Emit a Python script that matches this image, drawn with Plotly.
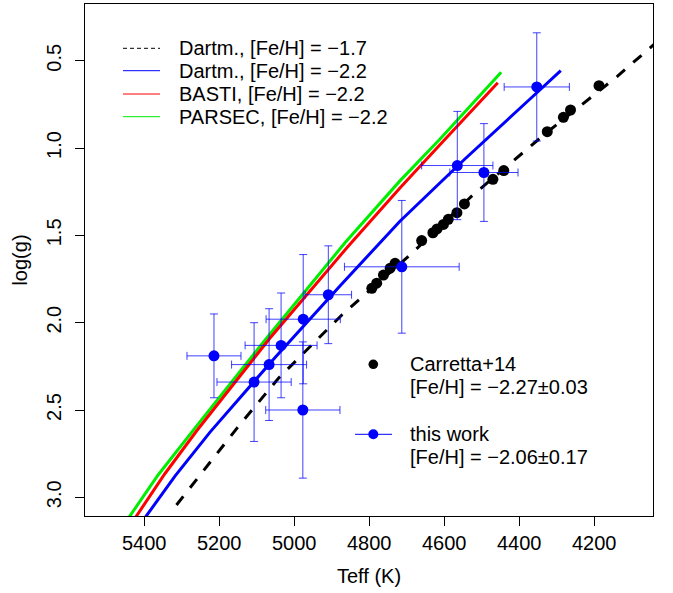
import plotly.graph_objects as go

# ---------------- data ----------------
# Dartmouth isochrone, [Fe/H] = -1.7 (dashed black)
dart17_teff = [5314, 5153, 5042, 4873, 4686, 4526, 4331, 4139, 4052, 4011]
dart17_logg = [3.044, 2.605, 2.318, 1.956, 1.602, 1.274, 0.919, 0.591, 0.428, 0.352]

# Dartmouth isochrone, [Fe/H] = -2.2 (blue)
dart22_teff = [5411, 5394, 5318, 5225, 5051, 4878, 4718, 4544, 4371, 4289]
dart22_logg = [3.159, 3.105, 2.879, 2.628, 2.199, 1.790, 1.419, 1.061, 0.719, 0.557]

# BASTI isochrone, [Fe/H] = -2.2 (red)
basti_teff = [5437, 5420, 5345, 5260, 5065, 4856, 4718, 4602, 4502, 4457]
basti_logg = [3.159, 3.105, 2.865, 2.619, 2.089, 1.562, 1.229, 0.960, 0.733, 0.626]

# PARSEC isochrone, [Fe/H] = -2.2 (green)
parsec_teff = [5455, 5438, 5363, 5269, 5070, 4864, 4718, 4611, 4513, 4448]
parsec_logg = [3.159, 3.105, 2.872, 2.615, 2.079, 1.541, 1.188, 0.948, 0.722, 0.566]

# Carretta+14 stars (black dots)
carretta_teff = [4793, 4780, 4762, 4744, 4731, 4660, 4630, 4619, 4602, 4589,
                 4566, 4546, 4470, 4441, 4325, 4282, 4263, 4187]
carretta_logg = [1.803, 1.774, 1.727, 1.688, 1.660, 1.530, 1.485, 1.463, 1.437, 1.408,
                 1.370, 1.320, 1.179, 1.129, 0.906, 0.824, 0.782, 0.643]

# this work (blue dots with error bars)
this_teff = [5214, 5107, 5067, 5035, 4977, 4976, 4909, 4713, 4565, 4494, 4353]
this_logg = [2.19, 2.34, 2.24, 2.13, 2.50, 1.98, 1.84, 1.68, 1.10, 1.14, 0.65]
this_eteff = [72, 99, 100, 96, 99, 99, 62, 153, 95, 91, 87]
this_elogg = [0.24, 0.34, 0.32, 0.30, 0.39, 0.37, 0.28, 0.38, 0.31, 0.28, 0.31]

x_ticks = [5400, 5200, 5000, 4800, 4600, 4400, 4200]
y_ticks = [0.5, 1.0, 1.5, 2.0, 2.5, 3.0]

legend1_labels = ["Dartm., [Fe/H] = \u22121.7", "Dartm., [Fe/H] = \u22122.2",
                  "BASTI, [Fe/H] = \u22122.2", "PARSEC, [Fe/H] = \u22122.2"]
legend2_labels = ["Carretta+14", "[Fe/H] = \u22122.27\u00b10.03",
                  "this work", "[Fe/H] = \u22122.06\u00b10.17"]

# ---------------- figure ----------------
W, H = 673, 593
ML, MR, MT, MB = 85, 20, 4, 77
PW, PH = W - ML - MR, H - MT - MB
FONT = "Liberation Sans, Arial, Helvetica, sans-serif"
BLUE, RED, GREEN = "#0000ff", "#ff0000", "#00ee00"


def px(x):
    return (x - ML) / PW


def py(y):
    return (H - MB - y) / PH


fig = go.Figure()
fig.add_trace(go.Scatter(x=parsec_teff, y=parsec_logg, mode="lines",
                         line=dict(color=GREEN, width=3), hoverinfo="skip"))
fig.add_trace(go.Scatter(x=basti_teff, y=basti_logg, mode="lines",
                         line=dict(color=RED, width=3), hoverinfo="skip"))
fig.add_trace(go.Scatter(x=dart22_teff, y=dart22_logg, mode="lines",
                         line=dict(color=BLUE, width=3), hoverinfo="skip"))
fig.add_trace(go.Scatter(x=dart17_teff, y=dart17_logg, mode="lines",
                         line=dict(color="black", width=3, dash="11px,11px"), hoverinfo="skip"))
fig.add_trace(go.Scatter(x=carretta_teff, y=carretta_logg, mode="markers",
                         marker=dict(color="black", size=11, line=dict(width=0))))
fig.add_trace(go.Scatter(x=this_teff, y=this_logg, mode="markers",
                         marker=dict(color=BLUE, size=11, line=dict(width=0)),
                         error_x=dict(type="data", array=this_eteff, color="rgba(0,0,255,0.75)",
                                      thickness=1, width=4),
                         error_y=dict(type="data", array=this_elogg, color="rgba(0,0,255,0.75)",
                                      thickness=1, width=4)))

shapes = []
annotations = []

# legend 1 (top left)
rows1 = [48.3, 70.7, 94.0, 116.7]
styles1 = [dict(color="black", width=1, dash="4px,3px"), dict(color=BLUE, width=1),
           dict(color=RED, width=1), dict(color=GREEN, width=1)]
for yy, st, lab in zip(rows1, styles1, legend1_labels):
    shapes.append(dict(type="line", xref="paper", yref="paper", x0=px(123), x1=px(160),
                       y0=py(yy), y1=py(yy), line=st))
    annotations.append(dict(text=lab, xref="paper", yref="paper", x=px(177), y=py(yy),
                            xanchor="left", yanchor="middle", showarrow=False,
                            font=dict(size=20, color="black", family=FONT)))

# legend 2 (bottom right)
rows2 = [364.3, 386.7, 434.3, 456.7]
for yy, lab in zip(rows2, legend2_labels):
    annotations.append(dict(text=lab, xref="paper", yref="paper", x=px(408), y=py(yy),
                            xanchor="left", yanchor="middle", showarrow=False,
                            font=dict(size=20, color="black", family=FONT)))
cx = 373.3
r = 4.8
shapes.append(dict(type="circle", xref="paper", yref="paper", x0=px(cx - r), x1=px(cx + r),
                   y0=py(rows2[0] + r), y1=py(rows2[0] - r), fillcolor="black",
                   line=dict(width=0)))
shapes.append(dict(type="line", xref="paper", yref="paper", x0=px(355), x1=px(392),
                   y0=py(rows2[2]), y1=py(rows2[2]), line=dict(color=BLUE, width=1)))
shapes.append(dict(type="circle", xref="paper", yref="paper", x0=px(cx - 5), x1=px(cx + 5),
                   y0=py(rows2[2] + 5), y1=py(rows2[2] - 5), fillcolor=BLUE,
                   line=dict(width=0)))

axis_common = dict(showgrid=False, zeroline=False, showline=True, mirror=True,
                   linecolor="black", linewidth=1, ticks="outside", ticklen=9,
                   tickwidth=1, tickcolor="black",
                   tickfont=dict(size=20, color="black", family=FONT))

fig.update_layout(
    width=W, height=H, margin=dict(l=ML, r=MR, t=MT, b=MB),
    paper_bgcolor="white", plot_bgcolor="white", showlegend=False,
    font=dict(family=FONT, size=20, color="black"),
    shapes=shapes, annotations=annotations,
    xaxis=dict(range=[5558, 4043], tickvals=x_ticks, ticktext=[str(v) for v in x_ticks],
               title=dict(text="Teff (K)", font=dict(size=20, family=FONT), standoff=15),
               **axis_common),
    yaxis=dict(range=[3.107, 0.175], tickvals=y_ticks, tickformat=".1f", tickangle=-90,
               ticklabelstandoff=6,
               title=dict(text="log(g)", font=dict(size=20, family=FONT), standoff=10),
               **axis_common),
)

fig.write_html("out.html")
